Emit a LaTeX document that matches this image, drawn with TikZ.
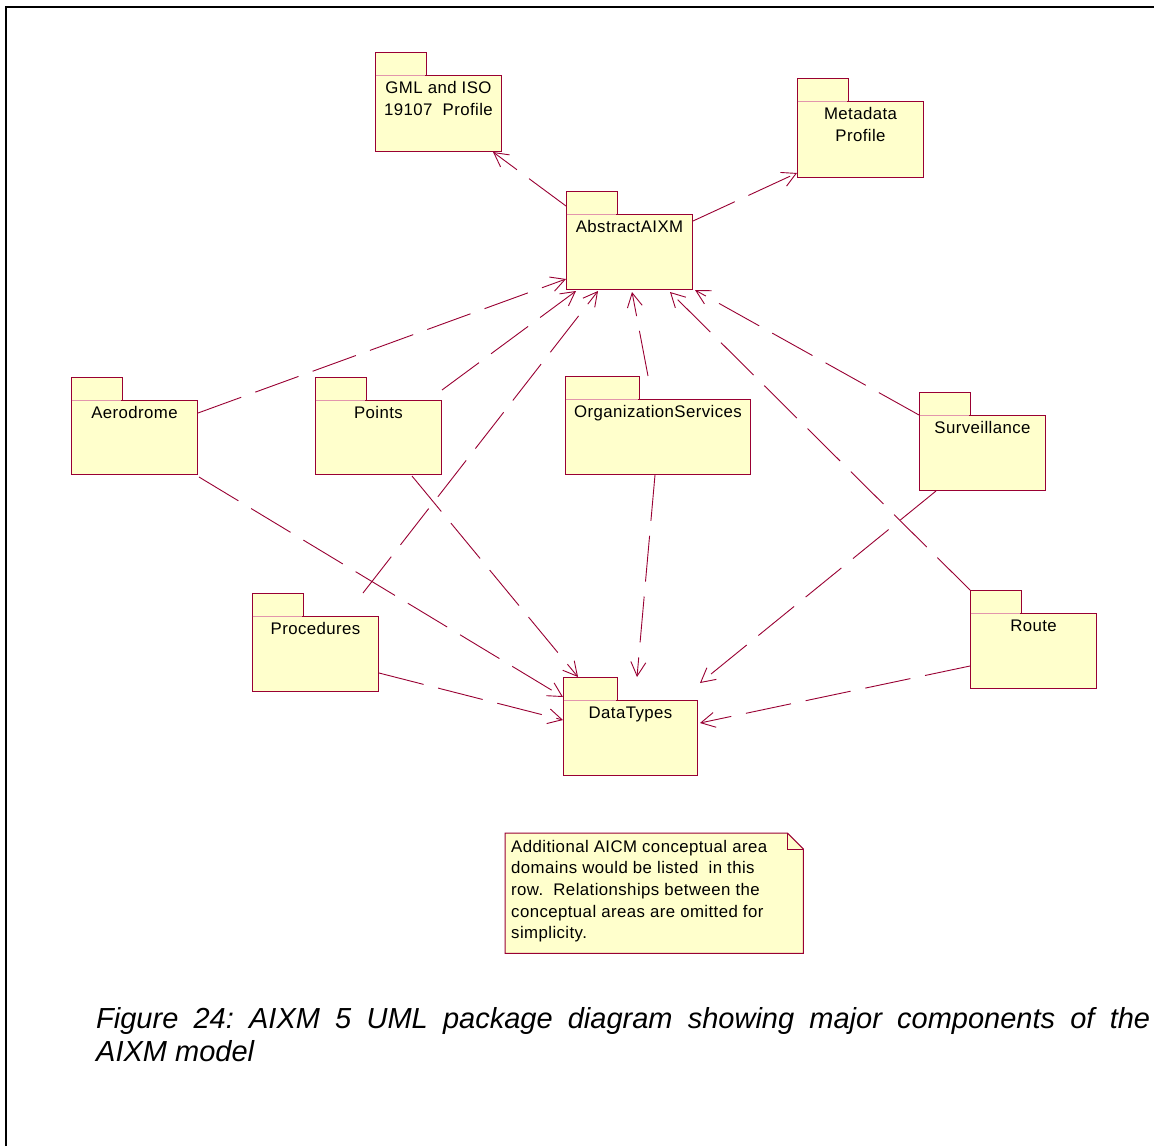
\documentclass[tikz,border=0pt]{standalone}
\usepackage{fontspec}
\setmainfont{Liberation Sans}
\newfontfamily\rosefont[LetterSpace=2.5]{Liberation Sans}
\usetikzlibrary{arrows.meta,calc}
\definecolor{pkgline}{RGB}{153,0,51}
\definecolor{pkgfill}{RGB}{255,255,204}
\definecolor{tabline}{RGB}{226,150,172}
\frenchspacing

% UML package: #1 name, #2 x, #3 y (top-left of body), #4 width, #5 height,
% #6 tab width, #7 label
\newcommand\umlpkg[7]{%
  \path[pkgtab] (#2,#3) rectangle ++(#6,-23);
  \node[pkg, minimum width=#4pt, minimum height=#5pt] (#1) at (#2,#3) {};
  \draw[tabline, line width=1pt] ($(#1.north west)+(0.6,0)$) -- ++(#6-1.2,0);
  \node[pkglabel] (#1-label) at ($(#1.north)+(0,6.5)$) {#7};
}

\begin{document}
\begin{tikzpicture}[x=1pt, y=-1pt,
  pkg/.style={draw=pkgline, fill=pkgfill, line width=1pt, inner sep=0pt, anchor=north west},
  pkgtab/.style={draw=pkgline, fill=pkgfill, line width=1pt},
  pkglabel/.style={font=\rosefont\fontsize{16.8}{21.7}\selectfont, inner sep=0pt,
    anchor=north, align=center},
  dep/.style={draw=pkgline, line width=0.9pt, dash pattern=on 46pt off 15pt,
    -{Straight Barb[length=14pt, width=15pt, line width=0.9pt]}},
  notebox/.style={draw=pkgline, fill=pkgfill, line width=1pt},
  notetext/.style={font=\rosefont\fontsize{16.8}{21.7}\selectfont, inner sep=0pt,
    anchor=north west, align=left},
  frame/.style={line width=2pt, draw=black}
]
\useasboundingbox (0,0) rectangle (1154,1146);
\fill[white] (0,0) rectangle (1154,1146);

% page frame
\draw[frame] (6,1146) -- (6,6.7) -- (1154,6.7);

% packages
\umlpkg{gml}{375}{75}{126}{76}{51}{GML and ISO\\19107\ \ Profile}
\umlpkg{meta}{797}{101}{126}{76}{51}{Metadata\\Profile}
\umlpkg{abs}{566}{214}{126}{75}{51}{AbstractAIXM}
\umlpkg{aero}{71}{400}{126}{74}{51}{Aerodrome}
\umlpkg{pts}{315}{400}{126}{74}{51}{Points}
\umlpkg{org}{565}{399}{185}{75}{74}{OrganizationServices}
\umlpkg{surv}{919}{415}{126}{75}{51}{Surveillance}
\umlpkg{route}{970}{613}{126}{75}{51}{Route}
\umlpkg{proc}{252}{616}{126}{75}{51}{Procedures}
\umlpkg{dt}{563}{700}{134}{75}{54}{DataTypes}

% dependencies on AbstractAIXM's imports
\draw[dep] ($(abs.north west)+(0,-8)$) -- ($(gml.south east)+(-9,0)$);
\draw[dep] ($(abs.north east)+(0,7)$) -- ($(meta.south west)+(0,-5)$);

% dependencies into AbstractAIXM
\draw[dep] ($(aero.north east)+(0,13)$) -- ($(abs.south west)+(0,-11)$);
\draw[dep] ($(pts.north east)+(0,-10)$) -- ($(abs.south west)+(10,1)$);
\draw[dep] ($(proc.north west)+(111,-23)$) -- ($(abs.south west)+(32,1)$);
\draw[dep] ($(org.north west)+(83,-23)$) -- ($(abs.south west)+(66,2)$);
\draw[dep] ($(route.north west)+(0,-23)$) -- ($(abs.south west)+(104,2)$);
\draw[dep] (surv.north west) -- ($(abs.south east)+(2,0)$);

% dependencies into DataTypes
\draw[dep] ($(aero.south east)+(1,2)$) -- ($(dt.north west)+(0,-3)$);
\draw[dep] ($(pts.south east)+(-30,1)$) -- ($(dt.north west)+(15,-23)$);
\draw[dep] ($(org.south west)+(90,0)$) -- ($(dt.north west)+(74,-23)$);
\draw[dep] ($(surv.south west)+(17,0)$) -- ($(dt.north east)+(2,-17)$);
\draw[dep] ($(proc.south east)+(0,-19)$) -- ($(dt.north west)+(0,20)$);
\draw[dep] ($(route.south west)+(0,-23)$) -- ($(dt.north east)+(2,23)$);

% note with folded corner
\node[inner sep=0pt, minimum width=298pt, minimum height=120pt, anchor=north west]
  (note) at (505,833) {};
\path[notebox] (note.north west) -- ($(note.north east)+(-16,0)$)
  -- ($(note.north east)+(0,16)$) -- (note.south east) -- (note.south west) -- cycle;
\draw[pkgline, line width=1pt] ($(note.north east)+(-16,0)$) |- ($(note.north east)+(0,16)$);
\node[notetext] (note-text) at (511,839.8)
  {Additional AICM conceptual area\\
   domains would be listed\ \ in this\\
   row.\ \ Relationships between the\\
   conceptual areas are omitted for\\
   simplicity.};

% caption
\node[anchor=north west, inner sep=0pt, text width=1054pt, align=justify,
  font=\fontsize{29}{33.4}\selectfont\itshape\frenchspacing] (caption) at (96,1007.2)
  {Figure 24: AIXM 5 UML package diagram showing major components of the\linebreak
   AIXM model};
\end{tikzpicture}
\end{document}
